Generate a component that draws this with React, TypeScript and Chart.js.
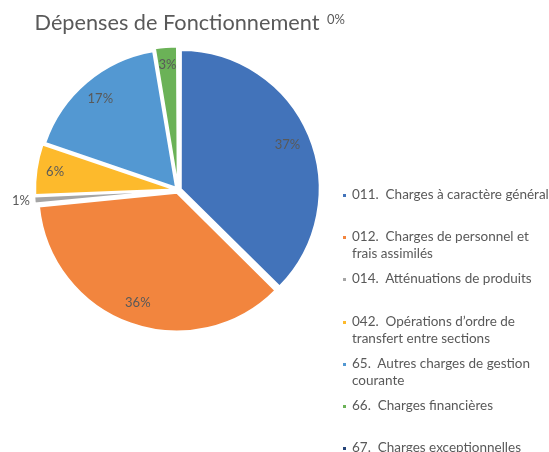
import React, { useEffect, useRef } from "react";
import { Chart, registerables } from "chart.js";

Chart.register(...registerables);

const categories = [
  "011.  Charges à caractère général",
  "012.  Charges de personnel et\nfrais assimilés",
  "014.  Atténuations de produits",
  "042.  Opérations d’ordre de\ntransfert entre sections",
  "65.  Autres charges de gestion\ncourante",
  "66.  Charges financières",
  "67.  Charges exceptionnelles",
];
const values = [37.4, 36.0, 0.9, 5.9, 17.1, 2.6, 0.04];
const colors = ["#4273BA", "#F2853E", "#A5A5A5", "#FDBA2C", "#5398D2", "#6BB257", "#264478"];
const title = "Dépenses de Fonctionnement";

// label placement: radius factor and angle shift (deg) per slice
const labelRadius = [0.86, 0.87, 1.14, 0.9, 0.87, 0.91, 1.68];
const labelAngleShift = [0, 0, 0, 0, 0, 0, 43];

const FONT = "Lato, 'Open Sans', sans-serif";

const labelPlugin = {
  id: "pctLabels",
  afterDatasetsDraw(chart: any) {
    const ctx = chart.ctx;
    const meta = chart.getDatasetMeta(0);
    const data = chart.data.datasets[0].data as number[];
    const total = data.reduce((a, b) => a + b, 0);
    ctx.save();
    ctx.font = `13px ${FONT}`;
    ctx.fillStyle = "#595959";
    ctx.textAlign = "center";
    ctx.textBaseline = "middle";
    meta.data.forEach((arc: any, i: number) => {
      const p = arc.getProps(["x", "y", "startAngle", "endAngle", "outerRadius"], true);
      const mid = (p.startAngle + p.endAngle) / 2 + (labelAngleShift[i] * Math.PI) / 180;
      const r = p.outerRadius * labelRadius[i];
      const pct = Math.round((data[i] / total) * 100);
      ctx.fillText(pct + "%", p.x + Math.cos(mid) * r, p.y + Math.sin(mid) * r);
    });
    ctx.restore();
  },
};

export default function App() {
  const ref = useRef<HTMLCanvasElement>(null);
  useEffect(() => {
    const chart = new Chart(ref.current!, {
      type: "pie",
      data: {
        labels: categories,
        datasets: [
          {
            data: values,
            backgroundColor: colors,
            borderColor: "#ffffff",
            borderWidth: 2,
            offset: 12,
          },
        ],
      },
      options: {
        animation: false,
        responsive: false,
        radius: 138,
        layout: { padding: { left: 30, right: 223, top: 40, bottom: 112 } },
        plugins: {
          legend: { display: false },
          tooltip: { enabled: false },
          title: { display: false },
        },
      },
      plugins: [labelPlugin],
    });
    return () => chart.destroy();
  }, []);

  return (
    <div style={{ position: "fixed", left: 0, top: 0, width: 549, height: 452, background: "#fff", overflow: "hidden" }}>
      <canvas ref={ref} width={549} height={452} style={{ position: "absolute", left: 0, top: 0 }} />
      <div
        style={{
          position: "absolute",
          left: 0,
          width: 354,
          top: 8,
          textAlign: "center",
          fontFamily: FONT,
          fontSize: 21.7,
          color: "#595959",
          lineHeight: "28px",
        }}
      >
        {title}
      </div>
      <div style={{ position: "absolute", left: 340, top: 186, width: 215, fontFamily: FONT, fontSize: 13.5, color: "#595959" }}>
        {categories.map((c, i) => (
          <div key={i} style={{ position: "absolute", top: i * 42.2, left: 0, height: 42, width: 215, display: "flex" }}>
            <div style={{ width: 3, height: 3, background: colors[i], marginTop: 8, marginLeft: 3, flexShrink: 0 }} />
            <div style={{ marginLeft: 6, whiteSpace: "pre", lineHeight: "17px" }}>{c}</div>
          </div>
        ))}
      </div>
    </div>
  );
}
